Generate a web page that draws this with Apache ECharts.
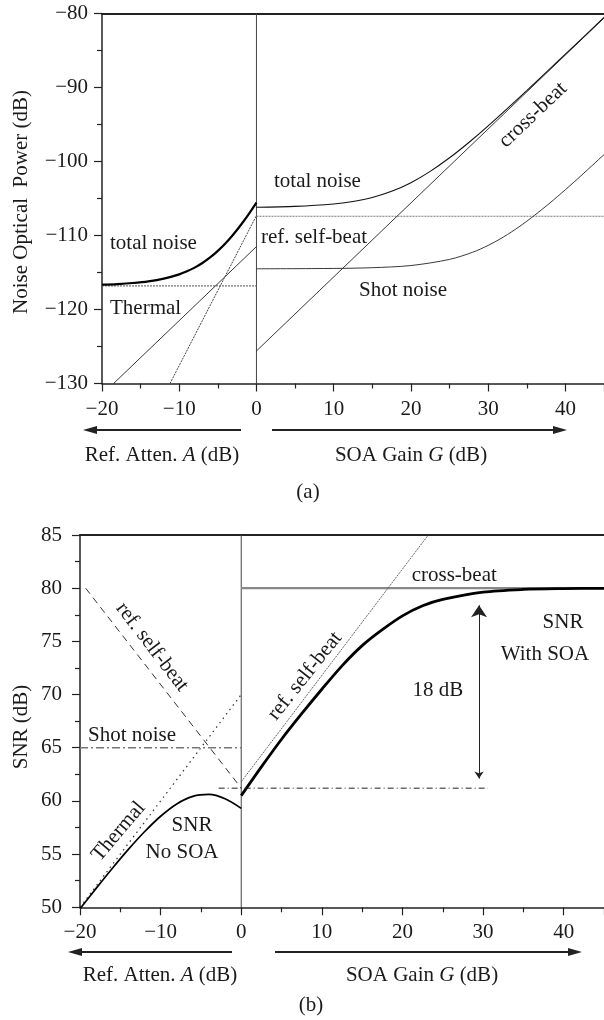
<!DOCTYPE html>
<html>
<head>
<meta charset="utf-8">
<script src="https://cdn.jsdelivr.net/npm/echarts@6/dist/echarts.min.js"></script>
<style>
html,body{margin:0;padding:0;background:#fff;}
#chart{width:604px;height:1020px;}
</style>
</head>
<body>
<div id="chart"></div>
<script>
// ---------- (a) Noise optical power ----------
const topYTicks = [-130, -120, -110, -100, -90, -80];
const xTicks = [-20, -10, 0, 10, 20, 30, 40];

const aThermalX = [-20, 0];
const aThermalY = [-116.8, -116.8];
const aShotLeftX = [-18.5, 0];
const aShotLeftY = [-130, -111.5];
const aSelfLeftX = [-11.2, 0];
const aSelfLeftY = [-130, -107.3];
const aTotalLeftX = [-20, -18, -16, -14, -12, -10, -9, -8, -7, -6, -5, -4, -3, -2, -1, 0];
const aTotalLeftY = [-116.65, -116.56, -116.42, -116.2, -115.83, -115.25, -114.84, -114.34, -113.72, -112.97, -112.08, -111.05, -109.86, -108.55, -107.11, -105.56];
const aSelfRightX = [0, 45];
const aSelfRightY = [-107.4, -107.4];
const aCrossX = [0, 45];
const aCrossY = [-125.6, -80.6];
const aShotRightX = [0, 10, 15, 20, 25, 28, 30, 32, 34, 36, 38, 40, 42, 45];
const aShotRightY = [-114.5, -114.45, -114.35, -114.06, -113.23, -112.26, -111.34, -110.19, -108.83, -107.28, -105.6, -103.81, -101.95, -99.07];
const aTotalRightX = [0, 5, 10, 12.5, 15, 17.5, 20, 22.5, 25, 27.5, 30, 35, 40, 45];
const aTotalRightY = [-106.18, -106.07, -105.75, -105.4, -104.86, -104.03, -102.86, -101.33, -99.5, -97.43, -95.18, -90.41, -85.5, -80.53];

// ---------- (b) SNR ----------
const bYTicks = [50, 55, 60, 65, 70, 75, 80, 85];
const bCrossX = [0, 45];
const bCrossY = [80, 80];
const bSelfRightX = [0, 23.2];
const bSelfRightY = [61.8, 85];
const bSnrSoaX = [0, 2.5, 5, 7.5, 10, 12.5, 15, 17.5, 20, 22.5, 25, 30, 35, 40, 45];
const bSnrSoaY = [60.5, 63.2, 65.8, 68.2, 70.5, 72.7, 74.6, 76.1, 77.4, 78.35, 78.95, 79.63, 79.88, 79.96, 79.99];
const bRefLineX = [-2.8, 30.6];
const bRefLineY = [61.2, 61.2];
const bArrowX = [29.5, 29.5];
const bArrowY = [62.1, 78.4];
const bSelfLeftX = [-19.3, 0];
const bSelfLeftY = [80, 61.2];
const bThermalX = [-20, 0];
const bThermalY = [50, 70];
const bShotX = [-20, 0];
const bShotY = [65, 65];
const bSnrNoSoaX = [-20, -18, -16, -14, -12, -10, -8, -6, -4, -2, 0];
const bSnrNoSoaY = [49.86, 51.78, 53.65, 55.44, 57.1, 58.56, 59.72, 60.43, 60.61, 60.2, 59.3];

const zip = (xs, ys) => xs.map((x, i) => [x, ys[i]]);
const FONT = '"Liberation Serif", "Times New Roman", serif';
const fmt = v => (v < 0 ? '\u2212' + Math.abs(v) : String(v));

function xAxisCfg(grid, ticks) {
  return {
    type: 'value', gridIndex: grid, min: -20, max: 45, interval: 10,
    axisLine: { show: true, onZero: false, lineStyle: { color: '#222', width: 1.5 } },
    axisTick: { show: true, length: 8, lineStyle: { color: '#222', width: 1.2 } },
    minorTick: { show: true, splitNumber: 2, length: 5, lineStyle: { color: '#222', width: 1.2 } },
    splitLine: { show: false },
    axisLabel: {
      margin: 15, color: '#1a1a1a', fontSize: 21, fontFamily: FONT,
      showMaxLabel: false,
      formatter: v => (ticks.indexOf(v) >= 0 ? fmt(v) : '')
    }
  };
}
function xTopCfg(grid) {
  return {
    type: 'value', gridIndex: grid, position: 'top', min: -20, max: 45,
    axisLine: { show: true, onZero: false, lineStyle: { color: '#222', width: 2 } },
    axisTick: { show: false }, axisLabel: { show: false }, splitLine: { show: false }
  };
}
function yAxisCfg(grid, min, max, interval, margin, ticks) {
  return {
    type: 'value', gridIndex: grid, min: min, max: max, interval: interval,
    axisLine: { show: true, onZero: false, lineStyle: { color: '#222', width: 1.5 } },
    axisTick: { show: true, length: 8, lineStyle: { color: '#222', width: 1.2 } },
    minorTick: { show: true, splitNumber: 2, length: 5, lineStyle: { color: '#222', width: 1.2 } },
    splitLine: { show: false },
    axisLabel: {
      margin: margin, color: '#1a1a1a', fontSize: 21, fontFamily: FONT,
      formatter: v => (ticks.indexOf(v) >= 0 ? fmt(v) : '')
    }
  };
}

function ln(xi, yi, data, style, extra) {
  return Object.assign({
    type: 'line', xAxisIndex: xi, yAxisIndex: yi, data: data,
    symbol: 'none', showSymbol: false, silent: true, animation: false,
    lineStyle: style, z: 3
  }, extra || {});
}

function txt(x, y, text, o) {
  o = o || {};
  const size = o.size || 21;
  return {
    type: 'text', x: x, y: y, rotation: o.rot || 0, z: 100,
    style: {
      text: text,
      font: size + 'px ' + FONT,
      fill: '#1a1a1a',
      align: o.align || 'center', textAlign: o.align || 'center',
      verticalAlign: 'middle', textVerticalAlign: 'middle',
      rich: { i: { font: 'italic ' + size + 'px ' + FONT, fill: '#1a1a1a' } }
    }
  };
}
function arrow(x1, x2, y) {
  // arrow head at x2
  const dir = x2 > x1 ? 1 : -1;
  return [
    { type: 'line', z: 100, shape: { x1: x1, y1: y, x2: x2 - dir * 8, y2: y }, style: { stroke: '#222', lineWidth: 2 } },
    { type: 'polygon', z: 100, shape: { points: [[x2, y], [x2 - dir * 14, y - 4], [x2 - dir * 14, y + 4]] }, style: { fill: '#222' } }
  ];
}

const graphics = [
  // (a)
  txt(21, 202, 'Noise Optical  Power (dB)', { rot: Math.PI / 2 }),
  txt(110, 243, 'total noise', { align: 'left' }),
  txt(110, 308, 'Thermal', { align: 'left' }),
  txt(261, 237, 'ref. self-beat', { align: 'left' }),
  txt(274, 181, 'total noise', { align: 'left' }),
  txt(359, 290, 'Shot noise', { align: 'left' }),
  txt(533, 115, 'cross-beat', { rot: 0.76 }),
  ...arrow(241, 83, 430),
  ...arrow(272, 567, 430),
  txt(162, 455, 'Ref. Atten. {i|A} (dB)'),
  txt(411, 455, 'SOA Gain {i|G} (dB)'),
  txt(308, 492, '(a)'),
  // (b)
  txt(21, 727, 'SNR (dB)', { rot: Math.PI / 2 }),
  txt(152, 647, 'ref. self-beat', { rot: -0.918 }),
  txt(88, 735, 'Shot noise', { align: 'left' }),
  txt(118.5, 831.5, 'Thermal', { rot: 0.866 }),
  txt(192, 825, 'SNR'),
  txt(182, 852, 'No SOA'),
  txt(305, 676, 'ref. self-beat', { rot: 0.9 }),
  txt(411.7, 575, 'cross-beat', { align: 'left' }),
  txt(563, 622, 'SNR'),
  txt(545, 654, 'With SOA'),
  txt(438, 690, '18 dB'),
  ...arrow(232, 68, 952),
  ...arrow(275, 582, 952),
  txt(160, 975, 'Ref. Atten. {i|A} (dB)'),
  txt(422, 975, 'SOA Gain {i|G} (dB)'),
  txt(311, 1005, '(b)')
];

const option = {
  backgroundColor: '#fff',
  animation: false,
  grid: [
    { left: 102, top: 13.5, width: 505, height: 370 },
    { left: 80, top: 535, width: 525, height: 372.3 }
  ],
  xAxis: [xAxisCfg(0, xTicks), xTopCfg(0), xAxisCfg(1, xTicks), xTopCfg(1)],
  yAxis: [
    yAxisCfg(0, -130, -80, 10, 14, topYTicks),
    yAxisCfg(1, 50, 85, 5, 18, bYTicks)
  ],
  graphic: graphics,
  series: [
    // (a)
    ln(0, 0, [[0, -130], [0, -80]], { color: '#444', width: 1 }),
    ln(0, 0, zip(aThermalX, aThermalY), { color: '#777', width: 1.2, type: [2, 1] }),
    ln(0, 0, zip(aShotLeftX, aShotLeftY), { color: '#222', width: 0.9 }),
    ln(0, 0, zip(aSelfLeftX, aSelfLeftY), { color: '#444', width: 1, type: [2, 1] }),
    ln(0, 0, zip(aTotalLeftX, aTotalLeftY), { color: '#000', width: 2.2 }, { smooth: 0.3 }),
    ln(0, 0, zip(aSelfRightX, aSelfRightY), { color: '#777', width: 1.2, type: [2, 1] }),
    ln(0, 0, zip(aCrossX, aCrossY), { color: '#222', width: 0.9 }),
    ln(0, 0, zip(aShotRightX, aShotRightY), { color: '#222', width: 0.9 }, { smooth: 0.3 }),
    ln(0, 0, zip(aTotalRightX, aTotalRightY), { color: '#111', width: 1.1 }, { smooth: 0.3 }),
    // (b)
    ln(2, 1, [[0, 50], [0, 85]], { color: '#444', width: 1 }),
    ln(2, 1, zip(bCrossX, bCrossY), { color: '#888', width: 2.2 }),
    ln(2, 1, zip(bSelfRightX, bSelfRightY), { color: '#555', width: 0.9, type: [2, 1] }),
    ln(2, 1, zip(bSnrSoaX, bSnrSoaY), { color: '#000', width: 2.8 }, { smooth: 0.3 }),
    ln(2, 1, zip(bRefLineX, bRefLineY), { color: '#222', width: 1, type: [6, 3, 1, 3] }),
    {
      type: 'lines', coordinateSystem: 'cartesian2d', xAxisIndex: 2, yAxisIndex: 1,
      silent: true, animation: false, z: 4,
      symbol: ['arrow', 'arrow'], symbolSize: [7, 12],
      lineStyle: { color: '#222', width: 1, opacity: 1 },
      data: [{ coords: zip(bArrowX, bArrowY) }]
    },
    ln(2, 1, zip(bSelfLeftX, bSelfLeftY), { color: '#333', width: 1, type: [7, 5] }),
    ln(2, 1, zip(bThermalX, bThermalY), { color: '#333', width: 1.2, type: [1.5, 4] }),
    ln(2, 1, zip(bShotX, bShotY), { color: '#777', width: 1.3, type: [8, 3, 2, 3] }),
    ln(2, 1, zip(bSnrNoSoaX, bSnrNoSoaY), { color: '#000', width: 1.7 }, { smooth: 0.3 })
  ]
};

const chart = echarts.init(document.getElementById('chart'), null, { renderer: 'canvas' });
chart.setOption(option);
</script>
</body>
</html>
